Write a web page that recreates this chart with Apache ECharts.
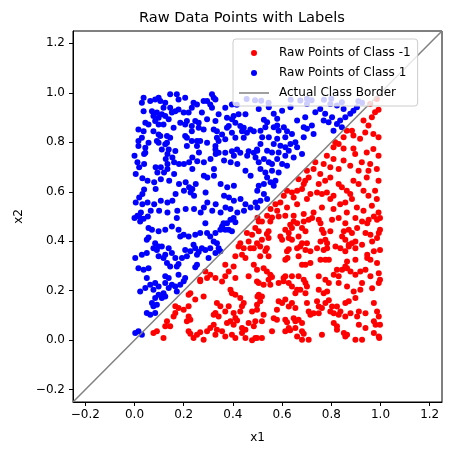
<!DOCTYPE html>
<html>
<head>
<meta charset="utf-8">
<script src="https://cdn.jsdelivr.net/npm/echarts@6/dist/echarts.min.js"></script>
<style>html,body{margin:0;padding:0;background:#fff;}#c{width:452px;height:455px;}</style>
</head>
<body>
<div id="c"></div>
<script>
const tickValues = [-0.2, 0, 0.2, 0.4, 0.6, 0.8, 1.0, 1.2];
const tickLabels = ['\u22120.2', '0.0', '0.2', '0.4', '0.6', '0.8', '1.0', '1.2'];
const borderLine = [[-0.25, -0.25], [1.25, 1.25]];

const classPos = [
[0.037,0.98],[0.03,0.96],[0.064,0.967],[0.084,0.973],[0.098,0.98],[0.105,0.967],[0.125,0.96],[0.145,0.994],[0.172,0.994],[0.179,0.973],[0.206,0.98],[0.24,0.96],[0.254,0.953],[0.281,0.967],[0.295,0.967],[0.315,0.994],[0.322,0.98],[0.329,0.973],[0.308,0.953],[0.315,0.94],[0.233,0.94],[0.179,0.933],[0.166,0.926],[0.152,0.92],[0.2,0.92],[0.22,0.92],[0.369,0.94],[0.396,0.953],
[0.037,0.926],[0.071,0.926],[0.091,0.92],[0.077,0.906],[0.098,0.899],[0.111,0.913],[0.125,0.906],[0.139,0.893],[0.145,0.94],[0.118,0.94],[0.084,0.886],[0.044,0.879],[0.057,0.872],[0.098,0.872],[0.118,0.872],[0.186,0.879],[0.213,0.886],[0.206,0.872],[0.233,0.866],[0.247,0.886],[0.261,0.879],[0.274,0.92],[0.295,0.893],[0.342,0.913],[0.329,0.886],[0.376,0.899],[0.396,0.893],[0.403,0.906],[0.423,0.913],[0.451,0.913],[0.41,0.879],[0.383,0.866],[0.43,0.866],[0.444,0.859],
[0.016,0.852],[0.037,0.845],[0.077,0.845],[0.098,0.832],[0.105,0.825],[0.132,0.825],[0.145,0.818],[0.132,0.798],[0.159,0.859],[0.206,0.825],[0.213,0.818],[0.233,0.845],[0.261,0.859],[0.281,0.852],[0.322,0.852],[0.335,0.845],[0.335,0.818],[0.356,0.832],[0.376,0.859],[0.396,0.839],[0.437,0.845],[0.457,0.839],[0.471,0.852],[0.485,0.845],[0.444,0.818],[0.41,0.818],[0.369,0.812],[0.342,0.805],[0.295,0.798],[0.254,0.805],[0.233,0.805],[0.213,0.785],[0.016,0.805],[0.03,0.818],[0.091,0.805],[0.057,0.798],
[0.016,0.785],[0.044,0.778],[0.044,0.758],[0.098,0.798],[0.125,0.792],[0.139,0.771],[0.111,0.771],[0.166,0.765],[0.254,0.785],[0.267,0.805],[0.329,0.785],[0.329,0.771],[0.342,0.758],[0.369,0.758],[0.396,0.764],[0.417,0.771],[0.43,0.758],[0.464,0.764],[0.485,0.758],[0.498,0.771],
[0.039,0.753],[0.0,0.746],[0.404,0.746],[0.458,0.746],[0.262,0.759],
[0.012,0.719],[0.039,0.712],[0.019,0.699],[0.107,0.699],[0.086,0.699],[0.127,0.732],[0.134,0.753],[0.134,0.712],[0.154,0.739],[0.161,0.719],[0.181,0.712],[0.201,0.712],[0.222,0.719],[0.235,0.739],[0.255,0.723],[0.282,0.719],[0.309,0.732],[0.33,0.753],[0.364,0.726],[0.391,0.719],[0.418,0.712],[0.451,0.685],[0.323,0.692],[0.235,0.692],[0.134,0.692],
[0.005,0.672],[0.032,0.655],[0.053,0.645],[0.08,0.638],[0.107,0.651],[0.093,0.678],[0.12,0.678],[0.161,0.672],[0.181,0.631],[0.208,0.638],[0.222,0.618],[0.235,0.611],[0.249,0.631],[0.282,0.665],[0.296,0.658],[0.323,0.665],[0.35,0.631],[0.377,0.618],[0.404,0.624],[0.472,0.665],[0.039,0.609],[0.086,0.611],[0.141,0.645],
[0.032,0.591],[0.019,0.577],[0.005,0.557],[0.032,0.55],[0.053,0.557],[0.08,0.55],[0.107,0.564],[0.134,0.557],[0.154,0.564],[0.167,0.591],[0.201,0.604],[0.228,0.597],[0.242,0.584],[0.289,0.597],[0.296,0.557],[0.33,0.55],[0.364,0.584],[0.384,0.577],[0.404,0.564],[0.431,0.571],[0.451,0.55],[0.472,0.536],[0.445,0.523],[0.418,0.516],[0.39,0.53],[0.37,0.536],[0.35,0.516],[0.316,0.523],[0.282,0.536],[0.269,0.516],[0.242,0.53],[0.208,0.53],[0.174,0.523],[0.134,0.516],[0.1,0.523],[0.066,0.523],[0.026,0.516],[0.012,0.503],
[0.416,0.952],[0.456,0.975],[0.49,0.97],[0.515,0.968],[0.545,0.96],[0.635,0.972],[0.674,0.969],[0.701,0.976],[0.72,0.97],[0.77,0.972],[0.8,0.976],[0.843,0.962],[0.91,0.966],[0.925,0.96],
[0.505,0.935],[0.526,0.891],[0.539,0.881],[0.532,0.861],[0.512,0.847],[0.519,0.82],[0.546,0.82],[0.566,0.861],[0.58,0.868],[0.586,0.847],[0.607,0.861],[0.62,0.845],[0.64,0.834],[0.613,0.82],[0.58,0.814],[0.566,0.793],[0.593,0.786],[0.613,0.78],[0.634,0.793],[0.627,0.766],[0.586,0.759],[0.559,0.759],[0.539,0.766],[0.499,0.766],[0.492,0.739],[0.505,0.719],[0.526,0.732],[0.546,0.719],[0.559,0.712],[0.58,0.732],[0.6,0.712],[0.62,0.705],[0.613,0.746],[0.512,0.692],[0.532,0.678],[0.559,0.685],[0.586,0.678],[0.539,0.658],[0.553,0.638],[0.526,0.631],[0.505,0.624],[0.499,0.604],[0.526,0.591],[0.539,0.571],[0.512,0.564],[0.492,0.557],[0.499,0.536],[0.566,0.624],[0.573,0.645],
[0.661,0.888],[0.694,0.901],[0.701,0.855],[0.721,0.868],[0.728,0.834],[0.688,0.82],[0.654,0.8],[0.688,0.861],[0.735,0.922],[0.755,0.935],[0.775,0.915],[0.769,0.888],[0.789,0.881],[0.803,0.901],[0.823,0.874],[0.836,0.888],[0.857,0.901],[0.843,0.861],[0.809,0.847],[0.877,0.915],[0.89,0.928],[0.904,0.942],[0.823,0.949],[0.85,0.935],[0.796,0.955],[0.701,0.955],[0.634,0.942],[0.6,0.928],[0.566,0.915],[0.546,0.942],[0.58,0.895],[0.661,0.78],[0.681,0.753],[0.647,0.739],[0.512,0.793],
[0.0,0.494],[0.019,0.5],[0.037,0.491],[0.054,0.5],[0.023,0.48],[0.057,0.453],[0.071,0.446],[0.098,0.44],[0.125,0.446],[0.152,0.46],[0.172,0.494],[0.179,0.446],[0.2,0.426],[0.22,0.419],[0.186,0.419],[0.247,0.426],[0.267,0.433],[0.288,0.473],[0.295,0.433],[0.308,0.419],[0.329,0.433],[0.349,0.446],[0.362,0.473],[0.376,0.473],[0.39,0.487],[0.403,0.494],[0.41,0.477],[0.369,0.446],[0.383,0.446],[0.396,0.44],[0.356,0.46],
[0.05,0.406],[0.057,0.415],[0.084,0.392],[0.098,0.379],[0.091,0.365],[0.077,0.372],[0.111,0.379],[0.139,0.372],[0.152,0.352],[0.166,0.332],[0.125,0.345],[0.118,0.332],[0.132,0.312],[0.098,0.339],[0.05,0.352],[0.03,0.345],[0.003,0.332],[0.016,0.291],[0.037,0.285],[0.057,0.291],[0.05,0.251],[0.125,0.258],[0.145,0.298],[0.172,0.298],[0.179,0.308],[0.193,0.332],[0.213,0.339],[0.206,0.365],[0.227,0.359],[0.247,0.372],[0.24,0.386],[0.254,0.345],[0.261,0.356],[0.274,0.372],[0.288,0.365],[0.308,0.372],[0.322,0.399],[0.335,0.392],[0.342,0.372],[0.329,0.352],[0.349,0.359],[0.206,0.251],[0.179,0.264],[0.139,0.251],[0.254,0.305],[0.247,0.295],[0.301,0.332],
[0.023,0.197],[0.044,0.211],[0.064,0.224],[0.084,0.231],[0.098,0.217],[0.077,0.204],[0.125,0.231],[0.139,0.211],[0.152,0.224],[0.166,0.217],[0.186,0.224],[0.2,0.238],[0.172,0.197],[0.118,0.19],[0.098,0.184],[0.084,0.17],[0.071,0.15],[0.091,0.143],[0.077,0.137],[0.05,0.11],[0.064,0.103],[0.084,0.11],[0.003,0.029],[0.016,0.036],[0.03,0.022],[0.125,0.177],[0.111,0.17]
];

const classNeg = [
[0.5,0.495],[0.985,0.975],
[0.958,0.955],[0.978,0.922],[0.992,0.932],[0.965,0.901],[0.931,0.888],[0.951,0.868],[0.971,0.834],[0.992,0.82],[0.938,0.84],[0.863,0.847],[0.884,0.847],[0.89,0.827],[0.917,0.814],[0.85,0.82],[0.83,0.793],[0.816,0.8],[0.809,0.78],[0.85,0.775],[0.89,0.775],[0.897,0.753],[0.944,0.759],[0.971,0.773],[0.992,0.746],[0.924,0.719],[0.958,0.712],[0.985,0.692],[0.951,0.685],[0.911,0.685],[0.877,0.705],[0.85,0.726],[0.809,0.732],[0.782,0.746],[0.769,0.712],[0.796,0.699],[0.83,0.692],[0.735,0.719],[0.755,0.672],[0.728,0.692],[0.701,0.685],[0.708,0.658],[0.694,0.645],[0.688,0.631],[0.667,0.651],[0.681,0.611],[0.661,0.604],[0.64,0.597],[0.647,0.577],[0.62,0.604],[0.607,0.584],[0.593,0.557],[0.573,0.55],[0.553,0.53],[0.58,0.523],[0.539,0.503],[0.559,0.496],[0.62,0.536],[0.661,0.55],[0.701,0.571],[0.715,0.591],[0.742,0.597],[0.762,0.591],[0.782,0.597],[0.809,0.584],[0.796,0.571],[0.83,0.631],[0.843,0.618],[0.863,0.604],[0.877,0.591],[0.884,0.571],[0.857,0.557],[0.836,0.55],[0.89,0.645],[0.911,0.631],[0.931,0.604],[0.951,0.584],[0.978,0.604],[0.985,0.571],[0.965,0.543],[0.931,0.523],[0.904,0.536],[0.863,0.516],[0.809,0.53],[0.762,0.536],[0.728,0.516],[0.688,0.51],[0.647,0.503],[0.613,0.503],[0.775,0.645],[0.796,0.658],[0.749,0.631],[0.944,0.658],[0.992,0.645],[0.992,0.516],
[0.369,0.305],[0.403,0.298],[0.41,0.339],[0.423,0.379],[0.444,0.372],[0.437,0.345],[0.43,0.392],[0.464,0.399],[0.471,0.372],[0.485,0.372],[0.498,0.392],[0.491,0.453],[0.505,0.48],[0.478,0.426],[0.457,0.433],[0.451,0.332],[0.485,0.305],[0.369,0.258],[0.288,0.278],[0.308,0.264],[0.295,0.251],[0.267,0.244],[0.329,0.251],[0.356,0.237],[0.41,0.251],[0.464,0.258],[0.498,0.237],[0.383,0.278],
[0.267,0.238],[0.227,0.19],[0.22,0.184],[0.247,0.164],[0.22,0.137],[0.179,0.13],[0.166,0.137],[0.2,0.123],[0.22,0.096],[0.227,0.083],[0.213,0.076],[0.166,0.11],[0.159,0.096],[0.132,0.076],[0.145,0.056],[0.125,0.056],[0.091,0.036],[0.077,0.029],[0.118,0.009],[0.22,0.036],[0.227,0.026],[0.254,0.022],[0.267,0.032],[0.295,0.036],[0.308,0.049],[0.322,0.062],[0.335,0.042],[0.356,0.036],[0.329,0.022],[0.281,0.177],[0.335,0.15],[0.349,0.137],[0.329,0.11],[0.342,0.096],[0.322,0.103],[0.369,0.116],[0.383,0.137],[0.396,0.19],[0.39,0.204],[0.41,0.184],[0.43,0.17],[0.444,0.15],[0.437,0.137],[0.43,0.116],[0.403,0.11],[0.41,0.09],[0.417,0.08],[0.39,0.076],[0.376,0.069],[0.403,0.062],[0.437,0.049],[0.437,0.029],[0.451,0.042],[0.464,0.069],[0.491,0.076],[0.5,0.177],[0.498,0.123],[0.478,0.116],[0.485,0.056],[0.451,0.009],[0.41,0.009],[0.396,0.022],[0.491,0.009],[0.478,0.0],[0.281,0.002],[0.24,0.009],[0.369,0.015],
[0.518,0.48],[0.552,0.48],[0.586,0.5],[0.633,0.467],[0.647,0.48],[0.661,0.473],[0.688,0.48],[0.708,0.487],[0.722,0.494],[0.749,0.487],[0.756,0.473],[0.803,0.487],[0.83,0.494],[0.857,0.473],[0.898,0.494],[0.925,0.48],[0.946,0.473],[0.952,0.487],[0.973,0.5],[0.986,0.487],[0.998,0.494],
[0.505,0.44],[0.545,0.44],[0.538,0.429],[0.613,0.446],[0.627,0.433],[0.64,0.453],[0.681,0.453],[0.695,0.44],[0.762,0.446],[0.769,0.433],[0.796,0.44],[0.851,0.44],[0.871,0.446],[0.884,0.433],[0.905,0.453],[0.939,0.433],[0.959,0.426],[0.993,0.433],[0.998,0.446],
[0.518,0.406],[0.545,0.413],[0.593,0.419],[0.6,0.406],[0.627,0.413],[0.64,0.406],[0.667,0.419],[0.681,0.392],[0.701,0.392],[0.756,0.399],[0.776,0.406],[0.783,0.392],[0.844,0.419],[0.857,0.406],[0.871,0.386],[0.884,0.392],[0.898,0.399],[0.925,0.386],[0.986,0.413],[0.966,0.399],
[0.511,0.379],[0.538,0.372],[0.532,0.361],[0.62,0.359],[0.627,0.368],[0.661,0.372],[0.674,0.379],[0.695,0.365],[0.715,0.359],[0.742,0.372],[0.769,0.365],[0.783,0.372],[0.817,0.379],[0.837,0.372],[0.857,0.359],[0.871,0.379],[0.898,0.372],[0.946,0.345],[0.973,0.359],[0.998,0.365],
[0.511,0.339],[0.545,0.339],[0.613,0.325],[0.622,0.332],[0.667,0.339],[0.681,0.305],[0.695,0.305],[0.715,0.312],[0.756,0.325],[0.776,0.325],[0.79,0.325],[0.857,0.298],[0.864,0.318],[0.898,0.325],[0.946,0.332],[0.959,0.325],[0.986,0.312],
[0.498,0.285],[0.525,0.291],[0.538,0.278],[0.552,0.264],[0.559,0.255],[0.545,0.244],[0.606,0.251],[0.613,0.258],[0.64,0.258],[0.667,0.258],[0.688,0.244],[0.749,0.258],[0.776,0.244],[0.81,0.264],[0.823,0.285],[0.83,0.258],[0.844,0.285],[0.864,0.291],[0.878,0.278],[0.898,0.264],[0.918,0.278],[0.939,0.285],[0.959,0.258],[0.993,0.271],[0.998,0.244],
[0.505,0.231],[0.525,0.224],[0.552,0.224],[0.586,0.231],[0.606,0.238],[0.627,0.231],[0.64,0.217],[0.661,0.204],[0.654,0.19],[0.674,0.204],[0.695,0.231],[0.701,0.217],[0.695,0.19],[0.749,0.204],[0.769,0.19],[0.783,0.197],[0.79,0.231],[0.83,0.231],[0.864,0.217],[0.891,0.197],[0.918,0.204],[0.925,0.231],[0.966,0.21],[0.993,0.231],[0.505,0.184],[0.518,0.177],
[0.498,0.143],[0.511,0.157],[0.586,0.157],[0.6,0.15],[0.613,0.164],[0.627,0.136],[0.64,0.15],[0.654,0.13],[0.701,0.15],[0.742,0.157],[0.749,0.136],[0.776,0.15],[0.79,0.161],[0.803,0.136],[0.823,0.136],[0.857,0.15],[0.871,0.157],[0.898,0.17],[0.973,0.15],[0.579,0.123],
[0.525,0.103],[0.518,0.076],[0.566,0.089],[0.579,0.083],[0.613,0.083],[0.62,0.072],[0.647,0.089],[0.654,0.076],[0.667,0.083],[0.681,0.069],[0.708,0.116],[0.715,0.103],[0.728,0.109],[0.749,0.109],[0.762,0.13],[0.796,0.116],[0.81,0.109],[0.83,0.103],[0.837,0.116],[0.857,0.096],[0.878,0.109],[0.905,0.096],[0.912,0.116],[0.939,0.109],[0.986,0.116],[0.993,0.096],[0.973,0.076],[0.98,0.062],[0.998,0.062],
[0.627,0.049],[0.633,0.04],[0.613,0.036],[0.559,0.036],[0.654,0.049],[0.681,0.036],[0.688,0.026],[0.762,0.022],[0.81,0.069],[0.823,0.056],[0.823,0.042],[0.851,0.029],[0.864,0.022],[0.912,0.062],[0.939,0.049],[0.973,0.029],[0.993,0.015],
[0.498,0.009],[0.518,0.009],[0.661,0.015],[0.681,0.002],[0.708,0.002],[0.857,0.015],[0.898,0.002],[0.925,0.002],[0.995,0.009]
];

function tickFmt(v) {
  const i = tickValues.findIndex(t => Math.abs(t - v) < 1e-9);
  return i >= 0 ? tickLabels[i] : '';
}

const FONT = 'DejaVu Sans';
function axis(name, gap, isY) {
  return {
    type: 'value', min: -0.25, max: 1.25,
    name: name, nameLocation: 'middle', nameGap: gap,
    nameTextStyle: { fontFamily: FONT, fontSize: 12, color: '#000' },
    axisLine: { show: true, onZero: false, lineStyle: { color: '#000', width: 1 } },
    axisTick: { show: true, inside: false, length: 4, lineStyle: { color: '#000', width: 1 }, customValues: tickValues },
    axisLabel: { show: true, margin: isY ? 8 : 7, fontFamily: FONT, fontSize: 12, color: '#000', customValues: tickValues, formatter: tickFmt },
    splitLine: { show: false }
  };
}

const chart = echarts.init(document.getElementById('c'), null, { renderer: 'canvas' });
chart.setOption({
  animation: false,
  backgroundColor: '#fff',
  title: {
    text: 'Raw Data Points with Labels', left: 139, top: 11, padding: 0,
    textStyle: { fontFamily: FONT, fontSize: 14.6, fontWeight: 'normal', color: '#000' }
  },
  grid: { left: 73, top: 31, width: 369, height: 371, show: true, borderColor: '#000', borderWidth: 1, backgroundColor: 'transparent', containLabel: false },
  xAxis: axis('x1', 30, false),
  yAxis: axis('x2', 48, true),
  legend: {
    orient: 'vertical', left: 233, top: 39,
    padding: [7, 7, 6, 6], itemGap: 6, itemWidth: 30, itemHeight: 6,
    backgroundColor: 'rgba(255,255,255,0.8)', borderColor: '#cccccc', borderWidth: 1, borderRadius: 3,
    textStyle: { fontFamily: FONT, fontSize: 12, color: '#000', lineHeight: 14, padding: [0, 0, 0, 5] },
    data: [
      { name: 'Raw Points of Class -1', icon: 'circle' },
      { name: 'Raw Points of Class 1', icon: 'circle' },
      { name: 'Actual Class Border', icon: 'path://M0,0M30,6M0,2.25L30,2.25L30,3.75L0,3.75Z' }
    ]
  },
  series: [
    { name: 'Raw Points of Class -1', type: 'scatter', data: classNeg, symbol: 'circle', symbolSize: 6, itemStyle: { color: '#ff0000', opacity: 1 }, z: 2 },
    { name: 'Raw Points of Class 1', type: 'scatter', data: classPos, symbol: 'circle', symbolSize: 6, itemStyle: { color: '#0000ff', opacity: 1 }, z: 2 },
    { name: 'Actual Class Border', type: 'line', data: borderLine, symbol: 'none', showSymbol: false, clip: true,
      lineStyle: { color: '#808080', width: 1.5 }, itemStyle: { color: '#808080' }, z: 3 }
  ]
});
</script>
</body>
</html>
